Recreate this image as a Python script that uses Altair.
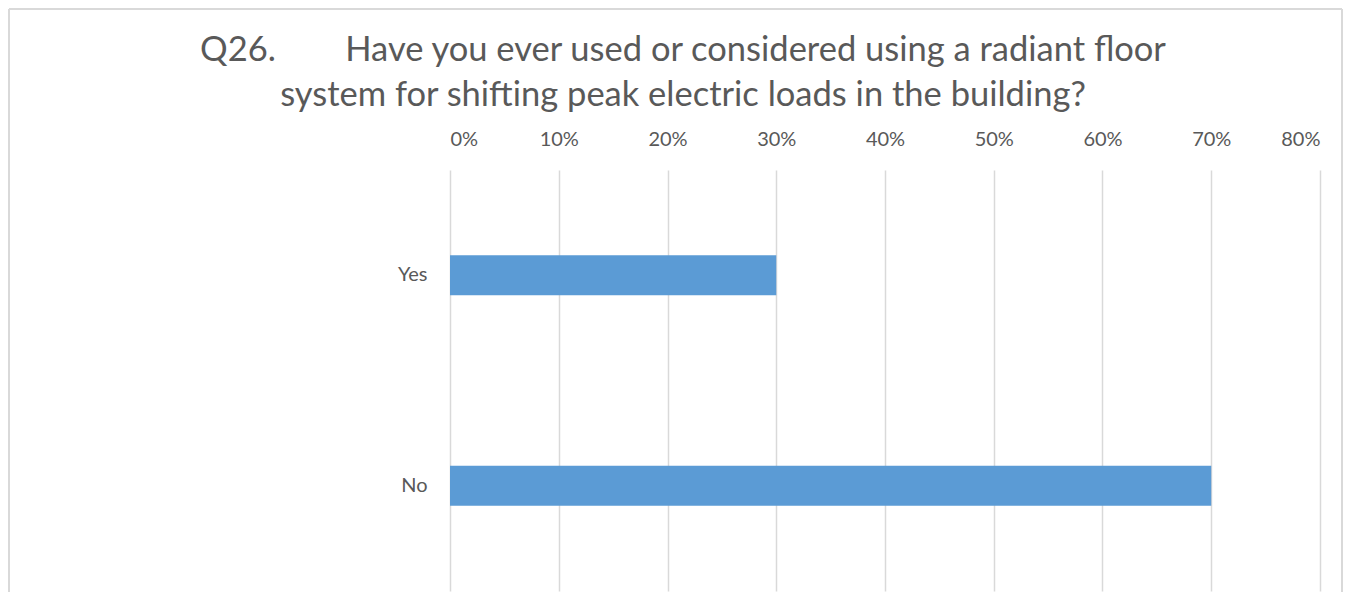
import altair as alt
import pandas as pd

categories = ["Yes", "No"]
values = [0.30, 0.70]
x_ticks = [0.0, 0.1, 0.2, 0.3, 0.4, 0.5, 0.6, 0.7, 0.8]
title_lines = ["Q26.\u2003\u2003\u00a0\u00a0Have you ever used or considered using a radiant floor",
               "system for shifting peak electric loads in the building?"]

df = pd.DataFrame({"answer": categories, "share": values})

FONT = "Lato"
GRAY = "#595959"
FRAME = "#d9d9d9"

bars = alt.Chart(df).mark_bar(color="#5b9bd5", size=40).encode(
    x=alt.X("share:Q",
            scale=alt.Scale(domain=[0, 0.8], nice=False, zero=True),
            axis=alt.Axis(orient="top", format=".0%", values=x_ticks, grid=True,
                          gridColor="#d9d9d9", gridWidth=1.5, domain=False, ticks=False,
                          labelFontSize=20, labelColor=GRAY, labelFont=FONT,
                          labelPadding=21, title=None)),
    y=alt.Y("answer:N", sort=categories,
            scale=alt.Scale(paddingInner=0, paddingOuter=0),
            axis=alt.Axis(domain=False, ticks=False, labelFontSize=20, labelColor=GRAY,
                          labelFont=FONT, labelPadding=23, title=None)),
)

frame_left = alt.Chart(df).mark_rule(color=FRAME, strokeWidth=2).encode(
    x=alt.value(-441), y=alt.value(-161), y2=alt.value(422))
frame_top = alt.Chart(df).mark_rule(color=FRAME, strokeWidth=2).encode(
    x=alt.value(-441), x2=alt.value(892), y=alt.value(-161))
frame_right = alt.Chart(df).mark_rule(color=FRAME, strokeWidth=2).encode(
    x=alt.value(892), y=alt.value(-161), y2=alt.value(422))

chart = alt.layer(frame_left, frame_top, frame_right, bars).properties(
    width=870, height=421,
    title=alt.TitleParams(title_lines, fontSize=34.5, font=FONT, color=GRAY,
                          fontWeight="normal", anchor="middle", dx=-202, offset=-132,
                          baseline="alphabetic", lineHeight=45),
    autosize=alt.AutoSizeParams(type="none"),
    padding={"left": 442, "top": 162, "right": 31, "bottom": 1},
).configure_view(stroke=None)

chart.save("out.html", embed_options={"renderer": "svg", "actions": False})
